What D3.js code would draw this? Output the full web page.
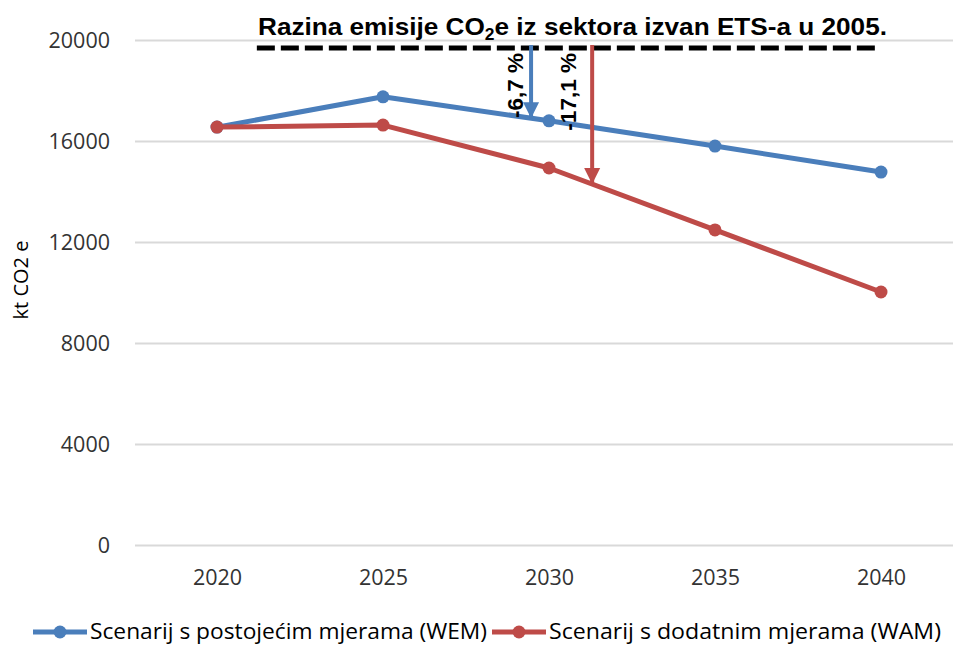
<!DOCTYPE html>
<html>
<head>
<meta charset="utf-8">
<script src="https://cdn.jsdelivr.net/npm/d3@7"></script>
<style>
  html, body { margin: 0; padding: 0; background: #fff; }
  svg { display: block; }
</style>
</head>
<body>
<svg id="chart" width="953" height="646"></svg>
<script>
// Emission projections, kt CO2e
const years = [2020, 2025, 2030, 2035, 2040];
const wem = [16550, 17750, 16800, 15800, 14770];
const wam = [16550, 16630, 14930, 12480, 10020];
const yTicks = [0, 4000, 8000, 12000, 16000, 20000];
const seriesNames = ["Scenarij s postojećim mjerama (WEM)", "Scenarij s dodatnim mjerama (WAM)"];

// 2005 non-ETS emission level and the reductions marked against it
const level2005 = 19680;
const levelSpan = [2021.2, 2039.9];
const reductions = [
  { label: "-6,7 %", year: 2029.46, series: 0 },
  { label: "-17,1 %", year: 2031.3, series: 1 }
];

const colors = ["#4A7EBB", "#BE4B48"];
const svg = d3.select("#chart");

const x = d3.scaleLinear().domain([2020, 2040]).range([217, 881]);
const y = d3.scaleLinear().domain([0, 20000]).range([545, 40]);
const plotLeft = 135, plotRight = 953;

// gridlines + y tick labels
const yAxis = d3.axisLeft(y).tickValues(yTicks).tickSize(0).tickPadding(0).tickFormat(d3.format("d"));
const gy = svg.append("g").attr("transform", `translate(${plotLeft},0)`).call(yAxis);
gy.select(".domain").remove();
gy.selectAll(".tick line")
  .attr("x2", plotRight - plotLeft)
  .attr("stroke", "#d9d9d9").attr("stroke-width", 2);
gy.selectAll(".tick text")
  .attr("x", -25).attr("dy", "0.35em")
  .attr("fill", "#333")
  .style("font-family", "'Open Sans', sans-serif").style("font-size", "21.5px");

// x axis labels
const xAxis = d3.axisBottom(x).tickValues(years).tickSize(0).tickPadding(0).tickFormat(d3.format("d"));
const gx = svg.append("g").attr("transform", "translate(0,545)").call(xAxis);
gx.select(".domain").remove();
gx.selectAll(".tick text")
  .attr("y", 40).attr("dy", 0)
  .attr("fill", "#333")
  .style("font-family", "'Open Sans', sans-serif").style("font-size", "21.5px");

// y axis title
svg.append("text")
  .attr("transform", "translate(28,280) rotate(-90)")
  .attr("text-anchor", "middle")
  .attr("fill", "#000")
  .style("font-family", "'Open Sans', sans-serif").style("font-size", "20px")
  .text("kt CO2 e");

// series lines and markers
const seriesData = [wem, wam];
const line = d3.line().x((d, i) => x(years[i])).y(d => y(d));
seriesData.forEach((vals, s) => {
  svg.append("path")
    .datum(vals)
    .attr("d", line)
    .attr("fill", "none")
    .attr("stroke", colors[s])
    .attr("stroke-width", 5)
    .attr("stroke-linejoin", "round");
  svg.selectAll(null)
    .data(vals)
    .enter().append("circle")
    .attr("cx", (d, i) => x(years[i]))
    .attr("cy", d => y(d))
    .attr("r", 6.5)
    .attr("fill", colors[s]);
});

// 2005 level: dashed reference line and title
svg.append("line")
  .attr("x1", x(levelSpan[0])).attr("x2", x(levelSpan[1]))
  .attr("y1", y(level2005)).attr("y2", y(level2005))
  .attr("stroke", "#000").attr("stroke-width", 5)
  .attr("stroke-dasharray", "18,6");

const title = svg.append("text")
  .attr("x", 258).attr("y", 35)
  .attr("textLength", 629).attr("lengthAdjust", "spacingAndGlyphs")
  .attr("fill", "#000")
  .style("font-family", "'Liberation Sans', Arial, sans-serif")
  .style("font-size", "24px").style("font-weight", "bold");
title.append("tspan").text("Razina emisije CO");
title.append("tspan").attr("dy", 5).style("font-size", "16px").text("2");
title.append("tspan").attr("dy", -5).text("e iz sektora izvan ETS-a u 2005.");

// reduction arrows, from the 2005 level down to the scenario line
const defs = svg.append("defs");
colors.forEach((c, i) => {
  defs.append("marker")
    .attr("id", "arrow" + i)
    .attr("viewBox", "0 0 10 10")
    .attr("refX", 10).attr("refY", 5)
    .attr("markerUnits", "userSpaceOnUse")
    .attr("markerWidth", 16).attr("markerHeight", 17)
    .attr("orient", "auto")
    .append("path").attr("d", "M0,0 L10,5 L0,10 Z").attr("fill", c);
});

function valueAt(vals, yr) {
  const interp = d3.scaleLinear().domain(years).range(vals);
  return interp(yr);
}

reductions.forEach((r, k) => {
  const vals = seriesData[r.series];
  const xp = x(r.year);
  const endV = valueAt(vals, r.year);
  svg.append("line")
    .attr("x1", xp).attr("x2", xp)
    .attr("y1", y(level2005) - 3).attr("y2", y(endV))
    .attr("stroke", colors[r.series]).attr("stroke-width", 4)
    .attr("marker-end", `url(#arrow${r.series})`);
  const off = k === 0 ? 8 : 16;
  svg.append("text")
    .attr("transform", `translate(${xp - off},${y(level2005) + 5}) rotate(-90)`)
    .attr("text-anchor", "end")
    .attr("fill", "#000")
    .style("font-family", "'Liberation Sans', Arial, sans-serif")
    .style("font-size", "22.5px").style("font-weight", "bold")
    .text(r.label);
});

// legend
const legendItems = [
  { x0: 33, text: seriesNames[0], color: colors[0], width: 397 },
  { x0: 492, text: seriesNames[1], color: colors[1], width: 392 }
];
legendItems.forEach(it => {
  const g = svg.append("g");
  g.append("line")
    .attr("x1", it.x0).attr("x2", it.x0 + 54)
    .attr("y1", 632).attr("y2", 632)
    .attr("stroke", it.color).attr("stroke-width", 5);
  g.append("circle").attr("cx", it.x0 + 27).attr("cy", 632).attr("r", 6.5).attr("fill", it.color);
  g.append("text")
    .attr("x", it.x0 + 57).attr("y", 639)
    .attr("fill", "#000")
    .attr("textLength", it.width).attr("lengthAdjust", "spacingAndGlyphs")
    .style("font-family", "'Open Sans', sans-serif").style("font-size", "21px")
    .text(it.text);
});
</script>
</body>
</html>
